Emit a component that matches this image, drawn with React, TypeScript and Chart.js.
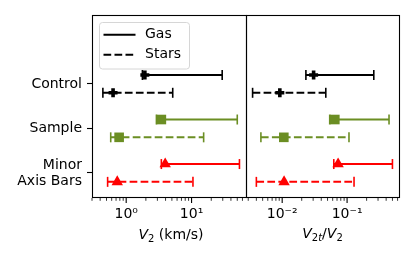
import React, { useEffect, useRef } from 'react';
import { Chart, registerables } from 'chart.js';
Chart.register(...registerables);

// ---------- data ----------
const categories: (string | string[])[] = ['Control', 'Sample', ['Minor', 'Axis Bars']];
const categoryColors = ['#000000', '#6b8e23', '#ff0000'];
const markerStyles = ['cross', 'rect', 'triangle'];

// V2 (km/s)
const gasV2 = [1.93, 3.45, 3.95];
const gasV2Lo = [1.77, 2.9, 3.45];
const gasV2Hi = [29.4, 50, 54];
const starsV2 = [0.63, 0.78, 0.73];
const starsV2Lo = [0.44, 0.58, 0.52];
const starsV2Hi = [5.15, 15.3, 10.5];

// V2t / V2
const gasRatio = [0.0305, 0.0647, 0.0727];
const gasRatioLo = [0.0232, 0.054, 0.0624];
const gasRatioHi = [0.258, 0.443, 0.5];
const starsRatio = [0.0092, 0.0106, 0.0107];
const starsRatioLo = [0.0035, 0.0047, 0.004];
const starsRatioHi = [0.047, 0.107, 0.128];

const leftTickValues = [1, 10];
const leftTickLabels = ['10\u2070', '10\u00B9'];
const rightTickValues = [0.01, 0.1];
const rightTickLabels = ['10\u207B\u00B2', '10\u207B\u00B9'];

const legendLabels = ['Gas', 'Stars'];

// ---------- styling ----------
const FONT = "'DejaVu Sans', 'Liberation Sans', sans-serif";
const ROW_OFFSET = 0.2;
const DASH = [7.7, 3.3];

function errorLine(lo: number, hi: number, y: number, color: string, dashed: boolean) {
  return {
    type: 'line' as const,
    data: [{ x: lo, y }, { x: hi, y }],
    borderColor: color,
    borderWidth: 2,
    borderDash: dashed ? DASH : [],
    showLine: true,
    pointStyle: 'line',
    pointRotation: 90,
    pointRadius: 5,
    pointBorderWidth: 1.6,
    pointBorderColor: color,
    pointBackgroundColor: color,
    order: 2,
  };
}

function marker(v: number, y: number, idx: number) {
  const style = markerStyles[idx];
  const color = categoryColors[idx];
  return {
    type: 'scatter' as const,
    data: [{ x: v, y }],
    showLine: false,
    pointStyle: style,
    pointRadius: style === 'cross' ? 4.5 : style === 'rect' ? 6.8 : 6.6,
    pointBorderWidth: style === 'cross' ? 3.6 : 0,
    pointBorderColor: color,
    pointBackgroundColor: color,
    order: 1,
  };
}

type Part = { t: string; font: string; dy: number };

function drawParts(ctx: CanvasRenderingContext2D, cx: number, y: number, parts: Part[]) {
  let total = 0;
  for (const p of parts) {
    ctx.font = p.font;
    total += ctx.measureText(p.t).width;
  }
  let x = cx - total / 2;
  ctx.textBaseline = 'alphabetic';
  ctx.textAlign = 'left';
  ctx.fillStyle = '#000';
  for (const p of parts) {
    ctx.font = p.font;
    ctx.fillText(p.t, x, y + p.dy);
    x += ctx.measureText(p.t).width;
  }
}

function panelPlugin(isLeft: boolean) {
  return {
    id: 'panel' + (isLeft ? 'L' : 'R'),
    afterDraw(chart: any) {
      const ctx: CanvasRenderingContext2D = chart.ctx;
      const { left, right, top, bottom } = chart.chartArea;
      ctx.save();
      // frame
      ctx.strokeStyle = '#000';
      ctx.lineWidth = 1.1;
      ctx.strokeRect(left + 0.5, top + 0.5, right - left, bottom - top);
      // x ticks (major + minor)
      const xs = chart.scales.x;
      const lo = Math.floor(Math.log10(xs.min));
      const hi = Math.ceil(Math.log10(xs.max));
      for (let d = lo; d <= hi; d++) {
        for (let k = 1; k <= 9; k++) {
          const v = k * Math.pow(10, d);
          if (v < xs.min || v > xs.max) continue;
          const px = xs.getPixelForValue(v);
          const major = k === 1;
          ctx.beginPath();
          ctx.lineWidth = major ? 1.1 : 0.8;
          ctx.moveTo(px, bottom + 1);
          ctx.lineTo(px, bottom + 1 + (major ? 4.9 : 2.8));
          ctx.stroke();
        }
      }
      // x title
      const cx = (left + right) / 2;
      const it = `italic 14px ${FONT}`;
      const nf = `14px ${FONT}`;
      const sf = `10px ${FONT}`;
      const sfi = `italic 10px ${FONT}`;
      if (isLeft) {
        drawParts(ctx, cx + 2, 238.5, [
          { t: 'V', font: it, dy: 0 },
          { t: '2', font: sf, dy: 3 },
          { t: ' (km/s)', font: nf, dy: 0 },
        ]);
      } else {
        drawParts(ctx, cx, 238, [
          { t: 'V', font: it, dy: 0 },
          { t: '2', font: sf, dy: 3 },
          { t: 't', font: sfi, dy: 3 },
          { t: '/', font: nf, dy: 0 },
          { t: 'V', font: it, dy: 0 },
          { t: '2', font: sf, dy: 3 },
        ]);
      }
      // legend
      if (isLeft) {
        const bx = 99.5, by = 22.5, bw = 90, bh = 46.5, r = 3;
        ctx.beginPath();
        ctx.moveTo(bx + r, by);
        ctx.lineTo(bx + bw - r, by);
        ctx.quadraticCurveTo(bx + bw, by, bx + bw, by + r);
        ctx.lineTo(bx + bw, by + bh - r);
        ctx.quadraticCurveTo(bx + bw, by + bh, bx + bw - r, by + bh);
        ctx.lineTo(bx + r, by + bh);
        ctx.quadraticCurveTo(bx, by + bh, bx, by + bh - r);
        ctx.lineTo(bx, by + r);
        ctx.quadraticCurveTo(bx, by, bx + r, by);
        ctx.closePath();
        ctx.fillStyle = 'rgba(255,255,255,0.8)';
        ctx.fill();
        ctx.strokeStyle = '#d6d6d6';
        ctx.lineWidth = 1;
        ctx.stroke();
        const rows = [34.7, 54.7];
        rows.forEach((yy, i) => {
          ctx.beginPath();
          ctx.strokeStyle = '#000';
          ctx.lineWidth = 2;
          ctx.setLineDash(i === 1 ? DASH : []);
          ctx.moveTo(103.5, yy);
          ctx.lineTo(135.5, yy);
          ctx.stroke();
          ctx.setLineDash([]);
          ctx.fillStyle = '#000';
          ctx.font = `14px ${FONT}`;
          ctx.textBaseline = 'middle';
          ctx.textAlign = 'left';
          ctx.fillText(legendLabels[i], 145, yy);
        });
      }
      ctx.restore();
    },
  };
}

function buildConfig(isLeft: boolean): any {
  const gv = isLeft ? gasV2 : gasRatio;
  const gl = isLeft ? gasV2Lo : gasRatioLo;
  const gh = isLeft ? gasV2Hi : gasRatioHi;
  const sv = isLeft ? starsV2 : starsRatio;
  const sl = isLeft ? starsV2Lo : starsRatioLo;
  const sh = isLeft ? starsV2Hi : starsRatioHi;
  const datasets: any[] = [];
  for (let i = 0; i < categories.length; i++) {
    datasets.push(errorLine(gl[i], gh[i], i - ROW_OFFSET, categoryColors[i], false));
    datasets.push(errorLine(sl[i], sh[i], i + ROW_OFFSET, categoryColors[i], true));
    datasets.push(marker(gv[i], i - ROW_OFFSET, i));
    datasets.push(marker(sv[i], i + ROW_OFFSET, i));
  }
  const tickVals = isLeft ? leftTickValues : rightTickValues;
  const tickLabs = isLeft ? leftTickLabels : rightTickLabels;
  return {
    type: 'scatter',
    data: { datasets },
    plugins: [panelPlugin(isLeft)],
    options: {
      animation: false,
      responsive: false,
      devicePixelRatio: 1,
      layout: {
        padding: isLeft
          ? { left: 0, top: 15, right: 169, bottom: 0 }
          : { left: 246, top: 15, right: 16, bottom: 0 },
      },
      plugins: { legend: { display: false }, tooltip: { enabled: false } },
      scales: {
        x: {
          type: 'logarithmic',
          position: 'bottom',
          min: isLeft ? 0.344 : 0.00277,
          max: isLeft ? 68 : 0.631,
          grid: { display: false, drawTicks: false },
          border: { display: false },
          afterBuildTicks: (s: any) => {
            s.ticks = tickVals.map((v) => ({ value: v, major: true }));
          },
          afterFit: (s: any) => {
            s.height = 63;
            s.paddingLeft = 0;
            s.paddingRight = 0;
            s.paddingTop = 0;
            s.paddingBottom = 0;
          },
          ticks: {
            autoSkip: false,
            maxRotation: 0,
            padding: 9,
            color: '#000',
            font: { family: FONT, size: 14 },
            callback: (v: any) => {
              const idx = tickVals.findIndex((t) => Math.abs(t - v) < t * 1e-6);
              return idx >= 0 ? tickLabs[idx] : '';
            },
          },
        },
        y: {
          type: 'linear',
          position: 'left',
          display: isLeft,
          reverse: true,
          min: -1.547,
          max: 2.54,
          grid: {
            display: true,
            drawOnChartArea: false,
            drawTicks: true,
            tickLength: 5,
            tickColor: '#000',
            tickWidth: 1.1,
          },
          border: { display: false },
          afterBuildTicks: (s: any) => {
            s.ticks = categories.map((_, i) => ({ value: i }));
          },
          afterFit: (s: any) => {
            s.width = isLeft ? 92 : 0;
            s.paddingLeft = 0;
            s.paddingRight = 0;
            s.paddingTop = 0;
            s.paddingBottom = 0;
          },
          ticks: {
            autoSkip: false,
            padding: 5,
            color: '#000',
            font: { family: FONT, size: 14, lineHeight: 1.15 },
            callback: (v: any) => categories[Math.round(v)] ?? '',
          },
        },
      },
    },
  };
}

export default function App() {
  const leftRef = useRef<HTMLCanvasElement>(null);
  const rightRef = useRef<HTMLCanvasElement>(null);
  useEffect(() => {
    const c1 = new Chart(leftRef.current as HTMLCanvasElement, buildConfig(true));
    const c2 = new Chart(rightRef.current as HTMLCanvasElement, buildConfig(false));
    return () => {
      c1.destroy();
      c2.destroy();
    };
  }, []);
  const cs: React.CSSProperties = { position: 'absolute', left: 0, top: 0, width: 415, height: 260 };
  return (
    <div style={{ position: 'fixed', left: 0, top: 0, width: 415, height: 260, background: '#fff' }}>
      <canvas ref={leftRef} width={415} height={260} style={cs} />
      <canvas ref={rightRef} width={415} height={260} style={cs} />
    </div>
  );
}
